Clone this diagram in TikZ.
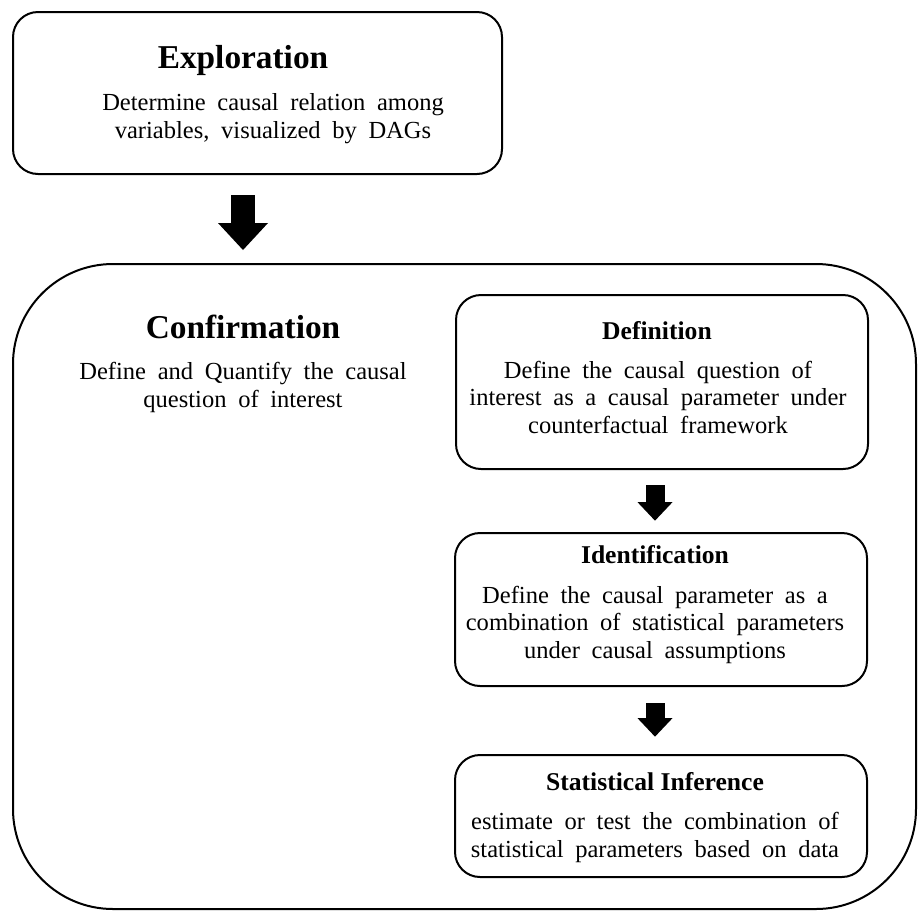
\documentclass[tikz,border=0pt]{standalone}
\usepackage{fontspec}
\setmainfont{Liberation Serif}
\newfontfamily\bodyfont[WordSpace=1.9]{Liberation Serif}
\usetikzlibrary{arrows.meta,calc}
\tikzset{
  box/.style={draw, line width=1.5pt, rounded corners=18.75pt, inner sep=0pt},
  bigbox/.style={draw, line width=1.5pt, rounded corners=75pt, inner sep=0pt},
  bigtitle/.style={font=\fontsize{25}{30}\selectfont\bfseries, anchor=base, inner sep=0pt},
  subtitle/.style={font=\fontsize{19.2}{23}\selectfont\bfseries, anchor=base, inner sep=0pt},
  bodytext/.style={font=\bodyfont\fontsize{18.4}{20.6}\selectfont, align=center, anchor=base, inner sep=0pt},
  arrowbig/.style={line width=18pt, -{Triangle[width=37.5pt,length=20.25pt,line width=0pt]}},
  arrowsmall/.style={line width=14.25pt, -{Triangle[width=26.25pt,length=13.9pt,line width=0pt]}}
}
\begin{document}
\begin{tikzpicture}[x=0.75pt,y=-0.75pt]
\useasboundingbox (0,0) rectangle (918,911);
\fill[white] (0,0) rectangle (918,911);

% boxes
\node[box, minimum width=366.75pt, minimum height=121.5pt] (expl) at (257.5,93) {};
\node[bigbox, minimum width=677.25pt, minimum height=483.75pt] (conf) at (464.5,586.5) {};
\node[box, minimum width=309pt, minimum height=130.5pt] (def) at (662,382) {};
\node[box, minimum width=309pt, minimum height=114.75pt] (ident) at (661,609.5) {};
\node[box, minimum width=309pt, minimum height=91.5pt] (stat) at (661,816) {};

% texts (body nodes anchored at the baseline of their last line)
\node[bigtitle] (extitle) at (243,68) {Exploration};
\node[bodytext] (exbody) at (273,138) {Determine causal relation among\\variables, visualized by DAGs};

\node[bigtitle] (conftitle) at (243,338) {Confirmation};
\node[bodytext] (confbody) at (243,407) {Define and Quantify the causal\\question of interest};

\node[subtitle] (deftitle) at (657,339) {Definition};
\node[bodytext] (defbody) at (658,433) {Define the causal question of\\interest as a causal parameter under\\counterfactual framework};

\node[subtitle] (idtitle) at (655,563) {Identification};
\node[bodytext] (idbody) at (655,658) {Define the causal parameter as a\\combination of statistical parameters\\under causal assumptions};

\node[subtitle] (sttitle) at (655,790) {Statistical Inference};
\node[bodytext] (stbody) at (655,857) {estimate or test the combination of\\statistical parameters based on data};

% arrows
\draw[arrowbig, shorten <=15pt, shorten >=9.75pt] (extitle.base |- expl.south) -- (extitle.base |- conf.north);
\draw[arrowsmall, shorten <=11.5pt, shorten >=8.5pt] (idtitle.base |- def.south) -- (idtitle.base |- ident.north);
\draw[arrowsmall, shorten <=12.25pt, shorten >=13pt] (idtitle.base |- ident.south) -- (idtitle.base |- stat.north);
\end{tikzpicture}
\end{document}
